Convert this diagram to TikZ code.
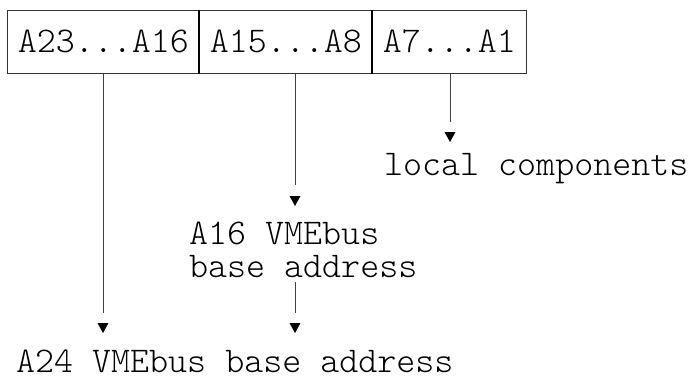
\documentclass[tikz,border=0pt]{standalone}
\usepackage{fontspec}
\setmonofont{lmmonolt10-regular.otf}
\begin{document}
\begin{tikzpicture}[x=1bp,y=-1bp,
  every node/.style={font=\ttfamily\fontsize{36.2bp}{33bp}\selectfont, inner sep=0pt},
  cell/.style={draw=black!80, line width=0.7bp, anchor=north west, text height=42.5bp, text depth=21bp, minimum height=63.5bp},
  lbl/.style={anchor=base west},
  conn/.style={line width=0.8bp, draw=black!75},
  divider/.style={line width=1.4bp, draw=black},
  tip/.style={fill=black}]
\useasboundingbox (0,0) rectangle (690,379);
\node[cell, minimum width=192bp] (c1) at (7,9.5) {A23...A16};
\node[cell, minimum width=173bp] (c2) at (199,9.5) {A15...A8};
\node[cell, minimum width=154bp] (c3) at (372,9.5) {A7...A1};
\draw[divider] (c2.north west) -- (c2.south west);
\draw[divider] (c3.north west) -- (c3.south west);
\node[lbl] (loc) at (384,175) {local components};
\node[lbl] (a16a) at (189,244) {A16 VMEbus};
\node[lbl] (a16b) at (189,277) {base address};
\node[lbl] (a24) at (16,372) {A24 VMEbus base address};
% coordinates
\coordinate (s1) at (c1.south -| 103,0);
\coordinate (e1) at (103,313);
\coordinate (s2) at (c2.south -| 295,0);
\coordinate (e2) at (295,185);
\coordinate (s2b) at (295,282);
\coordinate (e2b) at (295,313);
\coordinate (s3) at (c3.south -| 450,0);
\coordinate (e3) at (450,122);
\draw[conn] (s1) -- (e1);
\draw[conn] (s2) -- (e2);
\draw[conn] (s2b) -- (e2b);
\draw[conn] (s3) -- (e3);
\fill[tip] ([shift={(-5.5,10)}]e1) -- ++(11,0) -- ++(-5.5,10) -- cycle;
\fill[tip] ([shift={(-5.5,11)}]e2) -- ++(11,0) -- ++(-5.5,10) -- cycle;
\fill[tip] ([shift={(-5.5,10)}]e2b) -- ++(11,0) -- ++(-5.5,10) -- cycle;
\fill[tip] ([shift={(-5.5,10)}]e3) -- ++(11,0) -- ++(-5.5,10) -- cycle;
\end{tikzpicture}
\end{document}
